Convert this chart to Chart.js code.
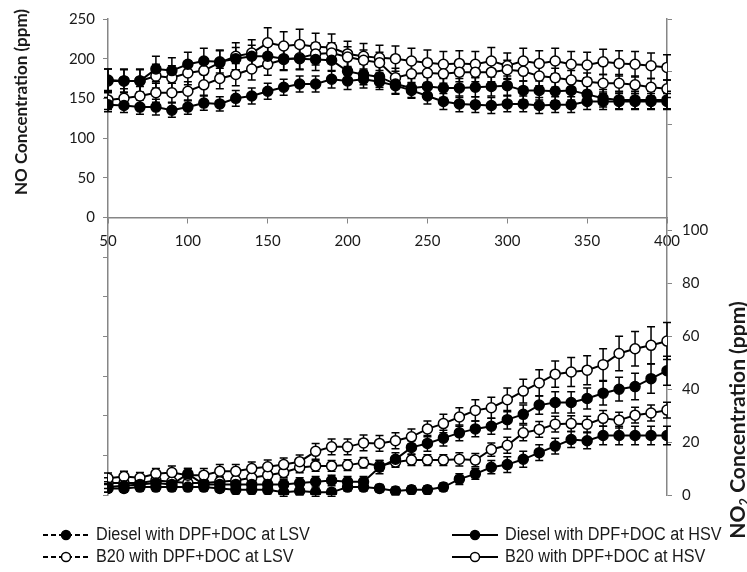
<!DOCTYPE html>
<html>
<head>
<meta charset="utf-8">
<script src="https://cdn.jsdelivr.net/npm/chart.js@4.4.1/dist/chart.umd.min.js"></script>
<style>
  body { margin: 0; background: #fff; }
  canvas { display: block; }
</style>
</head>
<body>
<canvas id="chart" width="747" height="572"></canvas>
<script>
// Tiempo / eje x
const xValues = [50, 60, 70, 80, 90, 100, 110, 120, 130, 140, 150, 160, 170, 180, 190, 200, 210, 220,
                 230, 240, 250, 260, 270, 280, 290, 300, 310, 320, 330, 340, 350, 360, 370, 380, 390, 400];

// NO (ppm), eje izquierdo
const dieselLsvNO = [142, 141, 139, 139, 135, 139, 144, 143, 150, 153, 159, 164, 168, 168, 174, 172, 174, 171,
                     166, 160, 153, 146, 143, 142, 141, 143, 143, 141, 142, 142, 146, 146, 146, 146, 146, 146];
const dieselHsvNO = [173, 172, 172, 187, 185, 193, 197, 196, 200, 203, 203, 200, 200, 199, 198, 184, 180, 177,
                     168, 163, 165, 163, 163, 164, 165, 166, 160, 160, 159, 160, 155, 150, 148, 148, 148, 148];
const b20LsvNO = [148, 150, 153, 157, 157, 159, 167, 175, 180, 187, 193, 199, 201, 206, 207, 202, 198, 195,
                  176, 181, 182, 181, 183, 183, 183, 186, 184, 178, 176, 173, 171, 169, 169, 167, 164, 162];
const b20HsvNO = [172, 172, 172, 178, 176, 182, 185, 195, 203, 207, 220, 216, 218, 215, 214, 206, 203, 201,
                  200, 197, 195, 193, 194, 193, 197, 191, 197, 194, 197, 193, 192, 196, 194, 193, 191, 189];

// NO errores
const dieselLsvNOErr = [9, 9, 9, 10, 9, 9, 9, 9, 10, 10, 10, 10, 10, 10, 11, 11, 11, 10,
                        10, 10, 10, 10, 10, 10, 10, 10, 10, 10, 10, 10, 10, 10, 10, 10, 10, 10];
const dieselHsvNOErr = [14, 14, 14, 16, 16, 15, 16, 14, 14, 14, 15, 14, 14, 14, 14, 14, 13, 13,
                        13, 12, 12, 12, 12, 12, 12, 12, 12, 12, 12, 12, 11, 11, 11, 11, 11, 11];
const b20LsvNOErr = [12, 12, 12, 12, 12, 12, 13, 13, 14, 14, 14, 14, 14, 14, 13, 13, 13, 13,
                     12, 12, 12, 12, 12, 12, 12, 12, 12, 12, 12, 12, 11, 11, 11, 11, 11, 11];
const b20HsvNOErr = [15, 15, 15, 15, 15, 15, 15, 16, 17, 17, 19, 18, 19, 17, 17, 16, 16, 16,
                     16, 16, 16, 16, 16, 16, 17, 16, 16, 16, 16, 16, 16, 16, 16, 16, 16, 16];

// NO2 (ppm), eje derecho
const dieselLsvNO2 = [3, 3.5, 4, 4.5, 4, 8, 4, 4, 4, 4, 4, 4, 4.5, 5, 5.5, 5, 5, 10.5,
                      13.5, 18, 19.5, 21.5, 23.5, 25, 26, 28.5, 30.5, 34, 35, 35, 36.5, 38.5, 40, 41, 44, 47];
const dieselHsvNO2 = [2.5, 2.5, 3, 3, 3, 3, 3, 2.5, 2, 2, 2, 1, 1.5, 1, 1, 3, 3, 2.5,
                      1.5, 2, 2, 3, 6, 8, 10.5, 11.5, 13.5, 16, 18.5, 21, 20.5, 22.5, 22.5, 22.5, 22.5, 22.5];
const b20LsvNO2 = [6.3, 7, 6.5, 8, 8.5, 7.5, 7.5, 9, 9, 10, 10.7, 11.5, 12.6, 16.5, 18.2, 18.2, 19.7, 19.5,
                   20.5, 22, 25, 27, 29.5, 32, 33, 36, 39.3, 42.4, 45.7, 46.5, 47.2, 49.3, 53.5, 55.3, 56.6, 58.2];
const b20HsvNO2 = [4.5, 4.5, 4.5, 5.5, 5, 4.5, 4.5, 5, 5.5, 6.5, 7.5, 8.5, 10.4, 11, 11, 11.3, 12.2, 11,
                   12.5, 13.2, 13.2, 13.2, 13.5, 13.2, 17.2, 18.8, 23.5, 24.8, 26.8, 27, 26.8, 29, 28.3, 30.2, 31, 32.1];

// NO2 errores
const dieselLsvNO2Err = [2, 2, 2, 2, 2, 2, 2, 2, 2, 2, 2, 2, 2, 2, 2, 2, 2, 2.5,
                         2.5, 2.5, 3, 3, 3, 3, 3, 3.5, 3.5, 3.5, 4, 4, 4, 4.5, 4.5, 5, 5.5, 5.5];
const dieselHsvNO2Err = [1.5, 1.5, 1.5, 1.5, 1.5, 1.5, 1.5, 1.5, 1.5, 1.5, 1.5, 1.5, 1.5, 1.5, 1.5, 1.5, 1.5, 1.5,
                         1.5, 1.5, 1.5, 1.5, 2, 2, 2.5, 3, 3, 3, 3, 3, 3, 3.5, 3.5, 3.5, 3.5, 3.5];
const b20LsvNO2Err = [2, 2, 2, 2, 2.5, 2.5, 2.5, 2.5, 2.5, 2.5, 2.5, 2.5, 2.5, 3, 3, 3, 3, 3,
                      3, 3, 3, 3.5, 3.5, 4, 4, 4.5, 4.5, 5, 5, 5.5, 5.5, 6, 6.5, 6.5, 7, 7];
const b20HsvNO2Err = [2, 2, 2, 2, 2, 2, 2, 2, 2, 2, 2, 2, 2, 2, 2, 2, 2, 2,
                      2, 2, 2, 2, 2.5, 2.5, 2.5, 3, 3, 3, 3, 3, 3, 3, 3, 3, 3, 3];

const seriesNames = ['Diesel with DPF+DOC at LSV', 'Diesel with DPF+DOC at HSV',
                     'B20 with DPF+DOC at LSV', 'B20 with DPF+DOC at HSV'];

const axisGrey = '#868686';
const textColor = '#1a1a1a';

function toPoints(values) {
    return values.map((v, i) => ({ x: xValues[i], y: v }));
}

function makeDataset(label, values, errors, filled, axis) {
    return {
        label: label,
        data: toPoints(values),
        errors: errors,
        yAxisID: axis,
        borderColor: '#000',
        borderWidth: 2,
        pointRadius: 5,
        pointHoverRadius: 5,
        pointBorderWidth: 1.5,
        pointBorderColor: '#000',
        pointBackgroundColor: filled ? '#000' : '#fff',
        fill: false,
        tension: 0
    };
}

// barras de error dibujadas con las escalas del gráfico
const errorBars = {
    id: 'errorBars',
    beforeDatasetsDraw(chart) {
        const ctx = chart.ctx;
        ctx.save();
        ctx.strokeStyle = '#000';
        ctx.lineWidth = 1.5;
        chart.data.datasets.forEach((ds, i) => {
            const meta = chart.getDatasetMeta(i);
            const scale = chart.scales[ds.yAxisID];
            meta.data.forEach((pt, j) => {
                const v = ds.data[j].y;
                const e = ds.errors[j];
                const yTop = scale.getPixelForValue(v + e);
                const yBot = scale.getPixelForValue(v - e);
                ctx.beginPath();
                ctx.moveTo(pt.x, yTop); ctx.lineTo(pt.x, yBot);
                ctx.moveTo(pt.x - 4, yTop); ctx.lineTo(pt.x + 4, yTop);
                ctx.moveTo(pt.x - 4, yBot); ctx.lineTo(pt.x + 4, yBot);
                ctx.stroke();
            });
        });
        ctx.restore();
    }
};

// títulos de los ejes y leyenda
const extras = {
    id: 'extras',
    afterDraw(chart) {
        const ctx = chart.ctx;
        ctx.save();
        ctx.fillStyle = textColor;

        // título izquierdo
        ctx.save();
        ctx.translate(22, 102);
        ctx.rotate(-Math.PI / 2);
        ctx.font = 'bold 17px Lato';
        ctx.textAlign = 'center';
        ctx.textBaseline = 'middle';
        ctx.fillText('NO Concentration (ppm)', 0, 0);
        ctx.restore();

        // título derecho con subíndice
        ctx.save();
        ctx.translate(738, 420);
        ctx.rotate(-Math.PI / 2);
        ctx.textBaseline = 'middle';
        const big = 'bold 21px Lato', small = 'bold 13px Lato';
        ctx.font = big;
        const w1 = ctx.measureText('NO').width;
        const w3 = ctx.measureText(' Concentration (ppm)').width;
        ctx.font = small;
        const w2 = ctx.measureText('2').width;
        let x = -(w1 + w2 + w3) / 2;
        ctx.font = big;
        ctx.fillText('NO', x, 0);
        x += w1;
        ctx.font = small;
        ctx.fillText('2', x, 7);
        x += w2;
        ctx.font = big;
        ctx.fillText(' Concentration (ppm)', x, 0);
        ctx.restore();

        // leyenda
        const cols = [43, 452];
        const rows = [535, 557];
        ctx.textBaseline = 'middle';
        ctx.textAlign = 'left';
        seriesNames.forEach((name, i) => {
            const x0 = cols[i % 2];
            const y0 = rows[Math.floor(i / 2)];
            const dashed = i % 2 === 0;
            const filled = i < 2;
            ctx.strokeStyle = '#000';
            ctx.lineWidth = 2;
            ctx.setLineDash(dashed ? [5, 3] : []);
            ctx.beginPath();
            ctx.moveTo(x0, y0); ctx.lineTo(x0 + 46, y0);
            ctx.stroke();
            ctx.setLineDash([]);
            ctx.beginPath();
            ctx.arc(x0 + 23, y0, 4.5, 0, Math.PI * 2);
            ctx.fillStyle = filled ? '#000' : '#fff';
            ctx.fill();
            ctx.lineWidth = 1.5;
            ctx.stroke();
            // texto algo estrecho, como en la figura
            ctx.save();
            ctx.translate(x0 + 53, y0);
            ctx.scale(0.9, 1);
            ctx.font = '18px "Liberation Sans", sans-serif';
            ctx.fillStyle = textColor;
            ctx.fillText(name, 0, 0);
            ctx.restore();
        });
        ctx.restore();
    }
};

Chart.defaults.font.family = 'Lato';
Chart.defaults.font.size = 15;
Chart.defaults.color = textColor;

new Chart(document.getElementById('chart'), {
    type: 'line',
    data: {
        datasets: [
            makeDataset(seriesNames[0], dieselLsvNO, dieselLsvNOErr, true, 'y'),
            makeDataset(seriesNames[1], dieselHsvNO, dieselHsvNOErr, true, 'y'),
            makeDataset(seriesNames[2], b20LsvNO, b20LsvNOErr, false, 'y'),
            makeDataset(seriesNames[3], b20HsvNO, b20HsvNOErr, false, 'y'),
            makeDataset(seriesNames[0], dieselLsvNO2, dieselLsvNO2Err, true, 'y2'),
            makeDataset(seriesNames[1], dieselHsvNO2, dieselHsvNO2Err, true, 'y2'),
            makeDataset(seriesNames[2], b20LsvNO2, b20LsvNO2Err, false, 'y2'),
            makeDataset(seriesNames[3], b20HsvNO2, b20HsvNO2Err, false, 'y2')
        ]
    },
    options: {
        responsive: false,
        animation: false,
        devicePixelRatio: 1,
        layout: { padding: { top: 18, bottom: 77, left: 0, right: 0 } },
        plugins: {
            legend: { display: false },
            tooltip: { enabled: false }
        },
        scales: {
            x: {
                type: 'linear',
                min: 50,
                max: 400,
                position: { y: 0 },
                ticks: { stepSize: 50, padding: 10 },
                grid: { drawOnChartArea: false, drawTicks: true, tickLength: 5, color: axisGrey },
                border: { color: axisGrey, width: 1.5 }
            },
            y: {
                position: 'left',
                min: -350,
                max: 250,
                ticks: { stepSize: 50, padding: 8, callback: v => (v >= 0 ? v : '') },
                grid: { drawOnChartArea: false, drawTicks: true, tickLength: 5, color: axisGrey },
                border: { color: axisGrey, width: 1.5 },
                afterFit: s => { s.width = 108; }
            },
            y2: {
                position: 'right',
                min: 0,
                max: 180,
                ticks: { stepSize: 20, padding: 10, callback: v => (v <= 100 ? v : '') },
                grid: { drawOnChartArea: false, drawTicks: true, tickLength: 5, color: axisGrey },
                border: { color: axisGrey, width: 1.5 },
                afterFit: s => { s.width = 80; }
            }
        }
    },
    plugins: [errorBars, extras]
});
</script>
</body>
</html>
